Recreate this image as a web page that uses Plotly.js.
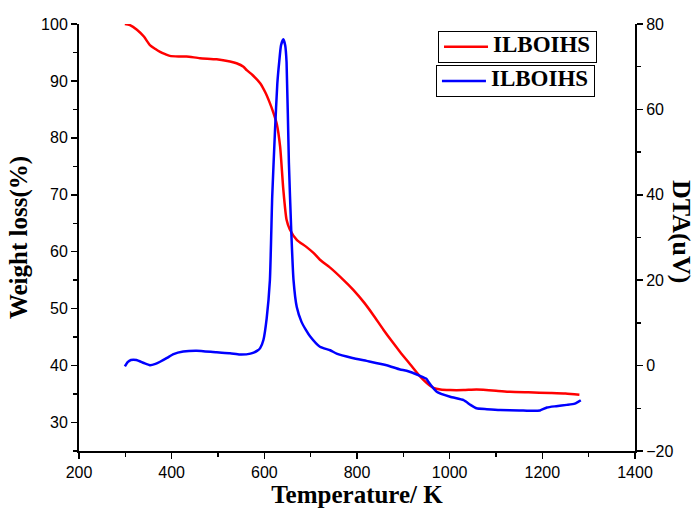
<!DOCTYPE html>
<html>
<head>
<meta charset="utf-8">
<script src="https://cdn.plot.ly/plotly-3.0.1.min.js"></script>
<style>html,body{margin:0;padding:0;background:#fff;}#chart{width:698px;height:519px;}</style>
</head>
<body>
<div id="chart"></div>
<script>
// TGA (weight loss, left axis)
var tgaTemp = [299, 310, 325, 340, 353, 365, 375, 386, 396, 415, 432, 461, 497, 526, 540, 555, 562, 575, 591, 602, 612, 620, 627, 634, 641, 648, 655, 670, 690, 706, 720, 742, 770, 792, 815, 835, 857, 875, 893, 915, 936, 950, 965, 980, 1001, 1030, 1058, 1100, 1130, 1170, 1217, 1250, 1280];
var tgaWeight = [100, 99.8, 99, 97.8, 96.3, 95.6, 95.1, 94.7, 94.4, 94.3, 94.3, 94, 93.8, 93.4, 93.1, 92.5, 91.9, 91, 89.6, 88, 86.1, 84.3, 82.4, 78.5, 70.9, 65.6, 63.9, 62.1, 60.9, 59.8, 58.6, 57.2, 55.1, 53.3, 51.1, 48.9, 46.3, 44.3, 42.4, 40.2, 38.1, 37, 36.1, 35.8, 35.7, 35.7, 35.8, 35.6, 35.4, 35.3, 35.2, 35.1, 34.9];
// DTA (right axis)
var dtaTemp = [299, 305, 312, 324, 340, 353, 365, 375, 390, 404, 425, 454, 497, 526, 547, 570, 585, 591, 598, 605, 612, 617, 623, 628, 632, 636, 641, 645, 648, 653, 658, 663, 670, 680, 690, 699, 720, 742, 756, 790, 821, 864, 893, 907, 936, 950, 954, 972, 1001, 1030, 1045, 1058, 1080, 1109, 1150, 1181, 1195, 1210, 1230, 1253, 1270, 1283];
var dtaSignal = [-0.2, 0.8, 1.3, 1.3, 0.6, 0.1, 0.4, 0.9, 1.8, 2.7, 3.3, 3.5, 3.1, 2.9, 2.6, 2.8, 3.5, 4.1, 6, 11, 20, 39.5, 55, 66, 71, 75, 76.4, 75, 71, 47.5, 31.8, 20, 13.7, 10.3, 8.3, 6.8, 4.4, 3.6, 2.8, 1.8, 1.1, 0.1, -0.9, -1.2, -2.4, -3.1, -3.8, -6.1, -7.3, -8.1, -9.2, -10, -10.2, -10.4, -10.5, -10.6, -10.5, -9.8, -9.5, -9.2, -8.9, -8.1];
var seriesNames = ["ILBOIHS", "ILBOIHS"];

var serif = "'Liberation Serif', 'Times New Roman', serif";
var sans = "'Liberation Sans', Arial, sans-serif";

function bigName(s) { return '<span style="font-size:23px">' + s + '</span>'; }

var traces = [
  {x: tgaTemp, y: tgaWeight, name: bigName(seriesNames[0]), type: 'scatter', mode: 'lines',
   line: {color: '#ff0000', width: 2.5, shape: 'spline', smoothing: 0.6}, xaxis: 'x', yaxis: 'y', legend: 'legend'},
  {x: dtaTemp, y: dtaSignal, name: bigName(seriesNames[1]), type: 'scatter', mode: 'lines',
   line: {color: '#0000ff', width: 2.5, shape: 'spline', smoothing: 0.5}, xaxis: 'x', yaxis: 'y2', legend: 'legend2'}
];

var legendCommon = {
  xanchor: 'left', yanchor: 'top', bgcolor: 'rgba(255,255,255,0)',
  bordercolor: '#000', borderwidth: 1,
  font: {family: serif, size: 13, color: '#000', weight: 'bold'},
  itemwidth: 44, tracegroupgap: 0
};

var titleFont = {family: serif, size: 25, color: '#000', weight: 'bold'};
var tickFont = {family: sans, size: 16, color: '#000'};

var layout = {
  width: 698, height: 519,
  margin: {l: 79, r: 63, t: 24, b: 68},
  paper_bgcolor: '#fff', plot_bgcolor: '#fff',
  showlegend: true,
  legend: Object.assign({x: 0.6457, y: 0.984}, legendCommon),
  legend2: Object.assign({x: 0.642, y: 0.904}, legendCommon),
  xaxis: {
    range: [200, 1400], tickvals: [200, 400, 600, 800, 1000, 1200, 1400],
    ticks: 'outside', ticklen: 6, tickwidth: 1.5, tickcolor: '#000',
    minor: {dtick: 100, tick0: 200, ticks: 'outside', ticklen: 4, tickwidth: 1.5, tickcolor: '#000'},
    showline: true, linecolor: '#000', linewidth: 2, showgrid: false, zeroline: false,
    tickfont: tickFont, automargin: true,
    title: {text: 'Temperature/ K', font: titleFont, standoff: 2}
  },
  xaxis2: {
    overlaying: 'x', side: 'top', matches: 'x', range: [200, 1400],
    tickvals: [300, 400, 500, 600, 700, 800, 900, 1000, 1100, 1200, 1300],
    ticks: 'inside', ticklen: 4, tickwidth: 1.5, tickcolor: '#000', showticklabels: false,
    showline: true, linecolor: '#000', linewidth: 2, showgrid: false, zeroline: false
  },
  yaxis: {
    range: [25, 100], tickvals: [30, 40, 50, 60, 70, 80, 90, 100],
    ticks: 'outside', ticklen: 6, tickwidth: 1.5, tickcolor: '#000',
    minor: {dtick: 5, tick0: 25, ticks: 'outside', ticklen: 4, tickwidth: 1.5, tickcolor: '#000'},
    showline: true, linecolor: '#000', linewidth: 2, showgrid: false, zeroline: false,
    tickfont: tickFont, automargin: true,
    title: {text: 'Weight loss(%)', font: titleFont, standoff: 6}
  },
  yaxis2: {
    overlaying: 'y', side: 'right', range: [-20, 80], tickvals: [-20, 0, 20, 40, 60, 80],
    ticks: 'outside', ticklen: 6, tickwidth: 1.5, tickcolor: '#000',
    minor: {dtick: 10, tick0: -20, ticks: 'outside', ticklen: 4, tickwidth: 1.5, tickcolor: '#000'},
    showline: true, linecolor: '#000', linewidth: 2, showgrid: false, zeroline: false,
    tickfont: tickFont
  },
  annotations: [{
    text: 'DTA(uV)', xref: 'paper', yref: 'paper', x: 1.0827, y: 0.513,
    xanchor: 'center', yanchor: 'middle', textangle: 90, showarrow: false,
    font: {family: serif, size: 26, color: '#000', weight: 'bold'}
  }]
};

Plotly.newPlot('chart', traces, layout, {displayModeBar: false, staticPlot: true});
</script>
</body>
</html>
